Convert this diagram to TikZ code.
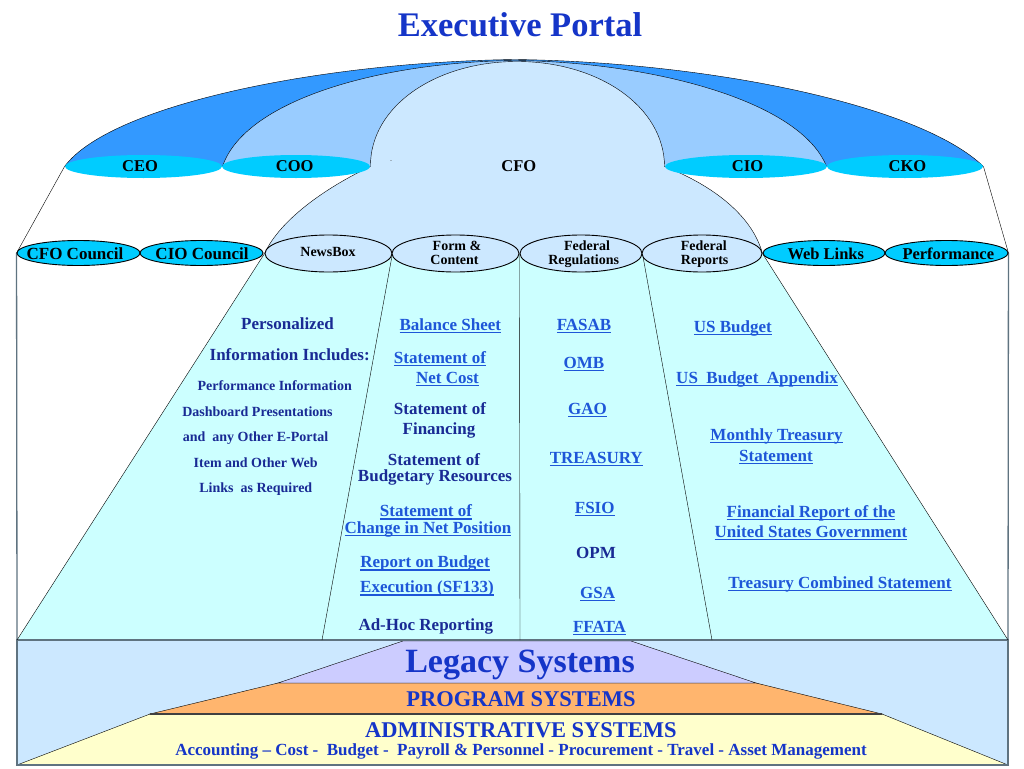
\documentclass[tikz,border=0pt]{standalone}
\usepackage{fontspec}
\setmainfont{Liberation Serif}
\usetikzlibrary{shapes.geometric,backgrounds}
\definecolor{domeA}{HTML}{3399FF}
\definecolor{domeB}{HTML}{99CCFF}
\definecolor{domeC}{HTML}{CCE8FF}
\definecolor{ellc}{HTML}{00CCFF}
\definecolor{cyanreg}{HTML}{CCFFFF}
\definecolor{band}{HTML}{CCE8FF}
\definecolor{legacy}{HTML}{CCCCFF}
\definecolor{prog}{HTML}{FFB56E}
\definecolor{admin}{HTML}{FFFFCC}
\definecolor{titlec}{HTML}{1535C8}
\definecolor{darkt}{HTML}{192A94}
\definecolor{linkc}{HTML}{1E56D8}
\definecolor{greyl}{HTML}{5F7380}
\newcommand\lnk[1]{\leavevmode\setbox0=\hbox{#1}\rlap{\rule[-3pt]{\wd0}{1.3pt}}\box0}
\tikzset{
  fsz/.style={font=\fontsize{#1}{#1}\selectfont\bfseries},
  txt/.style={anchor=base, inner sep=0pt, outer sep=0pt},
  dk/.style={txt, text=darkt},
  lk/.style={txt, text=linkc},
  bk/.style={txt, text=black},
  topell/.style={ellipse, fill=ellc, draw=none, inner sep=0pt, minimum height=23pt},
  councell/.style={ellipse, fill=ellc, draw=black, inner sep=0pt, minimum height=25pt},
  tabell/.style={ellipse, fill=domeC, draw=black, inner sep=0pt, minimum height=37pt},
  edge/.style={draw=greyl, line width=1.3pt},
}
\begin{document}
\begin{tikzpicture}[x=1pt,y=-1pt,line width=0.9pt]
\useasboundingbox (0,0) rectangle (1024,768);
% named coordinates
\coordinate (bl) at (17,640);
\coordinate (br) at (1008,640);
\coordinate (c1) at (322,640);
\coordinate (c2) at (520,640);
\coordinate (c3) at (712,640);
% ellipses, top row
\node[topell, minimum width=157pt] (eceo) at (143.5,166.5) {};
\node[topell, minimum width=148pt] (ecoo) at (296,166.5) {};
\node[topell, minimum width=162pt] (ecio) at (746,166.5) {};
\node[topell, minimum width=156pt] (ecko) at (905,166.5) {};
% ellipses, second row
\node[councell, minimum width=123pt] (ecfoc) at (78.5,253) {};
\node[councell, minimum width=123pt] (ecioc) at (201.5,253) {};
\node[tabell, minimum width=127pt] (enews) at (328.5,253.5) {};
\node[tabell, minimum width=127pt] (eform) at (455.5,253.5) {};
\node[tabell, minimum width=122pt] (ereg) at (581,253.5) {};
\node[tabell, minimum width=120pt] (erep) at (702,253.5) {};
\node[councell, minimum width=122pt] (eweb) at (824,253) {};
\node[councell, minimum width=123pt] (eperf) at (946.5,253) {};

\begin{pgfonlayer}{background}
\fill[white] (0,0) rectangle (1024,768);
% bottom band
\fill[band] (bl) rectangle (1008,765);
\filldraw[fill=admin, draw=black] (17,765) -- (150,714) -- (882,714) -- (1008,765) -- cycle;
\filldraw[fill=prog, draw=black] (150,714) -- (278,683) -- (756,683) -- (882,714) -- cycle;
\draw[line width=2pt, draw=black!75] (150,714) -- (882,714);
\filldraw[fill=legacy, draw=black] (278,683) -- (403,641) -- (631,641) -- (756,683) -- cycle;
\draw[edge] (bl) rectangle (1008,765);
% cyan region
\fill[cyanreg] (enews.west) -- (erep.east) -- (br) -- (bl) -- cycle;
\draw[edge] (bl) -- (br);
% domes
\fill[domeA] (eceo.west) .. controls (110,105) and (320,62) .. (515,59.5) .. controls (710,62) and (920,105) .. (ecko.east) -- cycle;
\draw (eceo.west) .. controls (110,105) and (320,62) .. (515,59.5) .. controls (710,62) and (920,105) .. (ecko.east);
\fill[domeB] (eceo.east) .. controls (245,100) and (380,62) .. (515,60.5) .. controls (650,62) and (800,100) .. (ecko.west) -- cycle;
\draw (eceo.east) .. controls (245,100) and (380,62) .. (515,60.5) .. controls (650,62) and (800,100) .. (ecko.west);
\fill[domeC] (ecoo.east) .. controls (370,106) and (436,61.5) .. (517,61.5) .. controls (598,61.5) and (664,106) .. (ecio.west) .. controls (712,185) and (752,215) .. (erep.east) -- (enews.west) .. controls (280,220) and (325,188) .. (ecoo.east) -- cycle;
\draw (ecoo.east) .. controls (370,106) and (436,61.5) .. (517,61.5) .. controls (598,61.5) and (664,106) .. (ecio.west) .. controls (712,185) and (752,215) .. (erep.east);
\draw (enews.west) .. controls (280,220) and (325,188) .. (ecoo.east);
% connectors
\draw (eceo.west) -- (ecfoc.west);
\draw (ecko.east) -- (eperf.east);
\draw[edge] (ecfoc.west) -- (bl);
\draw[edge] (eperf.east) -- (br);
\draw (enews.west) -- (bl);
\draw (erep.east) -- (br);
\draw (enews.east) -- (c1);
\draw (eform.east) -- (c2);
\draw (ereg.east) -- (c3);
\end{pgfonlayer}

% title
\node[txt, text=titlec, fsz=34.5] (title) at (520,36.7) {Executive Portal};
% top row labels
\node[bk, fsz=16.5] (tceo) at (140,171.7) {CEO};
\node[bk, fsz=16.5] (tcoo) at (294.7,171.7) {COO};
\node[bk, fsz=16.5] (tcfo) at (518.8,171.7) {CFO};
\node[bk, fsz=16.5] (tcio) at (747.5,171.7) {CIO};
\node[bk, fsz=16.5] (tcko) at (907.5,171.7) {CKO};
\node[txt, text=black!60, fsz=6] (tdash) at (391,162) {-};
% second row labels
\node[bk, fsz=17] (tcfoc) at (75,259.5) {CFO Council};
\node[bk, fsz=17] (tcioc) at (202,259.5) {CIO Council};
\node[bk, fsz=14] (tnews) at (328,256.7) {NewsBox};
\node[bk, fsz=14] (tform1) at (457,250.7) {Form \&};
\node[bk, fsz=14] (tform2) at (454.5,264) {Content};
\node[bk, fsz=14] (treg1) at (587,250.7) {Federal};
\node[bk, fsz=14] (treg2) at (583.7,264) {Regulations};
\node[bk, fsz=14] (trep1) at (703.7,250.7) {Federal};
\node[bk, fsz=14] (trep2) at (704.7,264) {Reports};
\node[bk, fsz=16.5] (tweb) at (825.8,259.3) {Web Links};
\node[bk, fsz=16.5] (tperf) at (948.3,259.3) {Performance};
% NewsBox column
\node[dk, fsz=17] (p1) at (287.5,329) {Personalized};
\node[dk, fsz=17] (p2) at (289.7,360) {Information Includes:};
\node[dk, fsz=14] (p3) at (274.7,390) {Performance Information};
\node[dk, fsz=14] (p4) at (257.5,416) {Dashboard Presentations};
\node[dk, fsz=14] (p5) at (255.5,441.7) {and\ \ any Other E-Portal};
\node[dk, fsz=14] (p6) at (255.7,467) {Item and Other Web};
\node[dk, fsz=14] (p7) at (255.8,492.7) {Links\ \ as Required};
% Form & Content column
\node[lk, fsz=17] (f1) at (450.3,330) {\lnk{Balance Sheet}};
\node[lk, fsz=17] (f2) at (440,363) {\lnk{Statement of}};
\node[lk, fsz=17] (f3) at (447.5,383) {\lnk{Net Cost}};
\node[dk, fsz=17] (f4) at (440,414) {Statement of};
\node[dk, fsz=17] (f5) at (439,434) {Financing};
\node[dk, fsz=17] (f6) at (434,465.7) {Statement of};
\node[dk, fsz=17] (f7) at (435,481.7) {Budgetary Resources};
\node[lk, fsz=17] (f8) at (426,516.7) {\lnk{Statement of}};
\node[lk, fsz=17] (f9) at (428,533) {\lnk{Change in Net Position}};
\node[lk, fsz=17] (f10) at (425,567.7) {\lnk{Report on Budget}};
\node[lk, fsz=17] (f11) at (427,592.7) {\lnk{Execution (SF133)}};
\node[dk, fsz=17] (f12) at (425.8,630) {Ad-Hoc Reporting};
% Federal Regulations column
\node[lk, fsz=17] (r1) at (584,330) {\lnk{FASAB}};
\node[lk, fsz=17] (r2) at (584,368) {\lnk{OMB}};
\node[lk, fsz=17] (r3) at (587.5,414) {\lnk{GAO}};
\node[lk, fsz=17] (r4) at (596.3,463) {\lnk{TREASURY}};
\node[lk, fsz=17] (r5) at (594.7,513) {\lnk{FSIO}};
\node[dk, fsz=17] (r6) at (596,558) {OPM};
\node[lk, fsz=17] (r7) at (597.7,598) {\lnk{GSA}};
\node[lk, fsz=17] (r8) at (599.5,632) {\lnk{FFATA}};
% Federal Reports column
\node[lk, fsz=17] (u1) at (732.8,332) {\lnk{US Budget}};
\node[lk, fsz=17] (u2) at (757,383) {\lnk{US\ \ Budget\ \ Appendix}};
\node[lk, fsz=17] (u3) at (776.5,440) {\lnk{Monthly Treasury}};
\node[lk, fsz=17] (u4) at (776,461) {\lnk{Statement}};
\node[lk, fsz=17] (u5) at (811,517) {\lnk{Financial Report of the}};
\node[lk, fsz=17] (u6) at (811,537) {\lnk{United States Government}};
\node[lk, fsz=17] (u7) at (840,588) {\lnk{Treasury Combined Statement}};
% bottom systems
\node[txt, text=titlec, fsz=34] (leg) at (520,672) {Legacy Systems};
\node[txt, text=titlec, fsz=22.5] (prg) at (521,706) {PROGRAM SYSTEMS};
\node[txt, text=titlec, fsz=22.5] (adm) at (521,737) {ADMINISTRATIVE SYSTEMS};
\node[txt, text=titlec, fsz=17] (acc) at (521,755.7) {Accounting -- Cost -\ \ Budget -\ \ Payroll \& Personnel - Procurement - Travel - Asset Management};
\end{tikzpicture}
\end{document}
